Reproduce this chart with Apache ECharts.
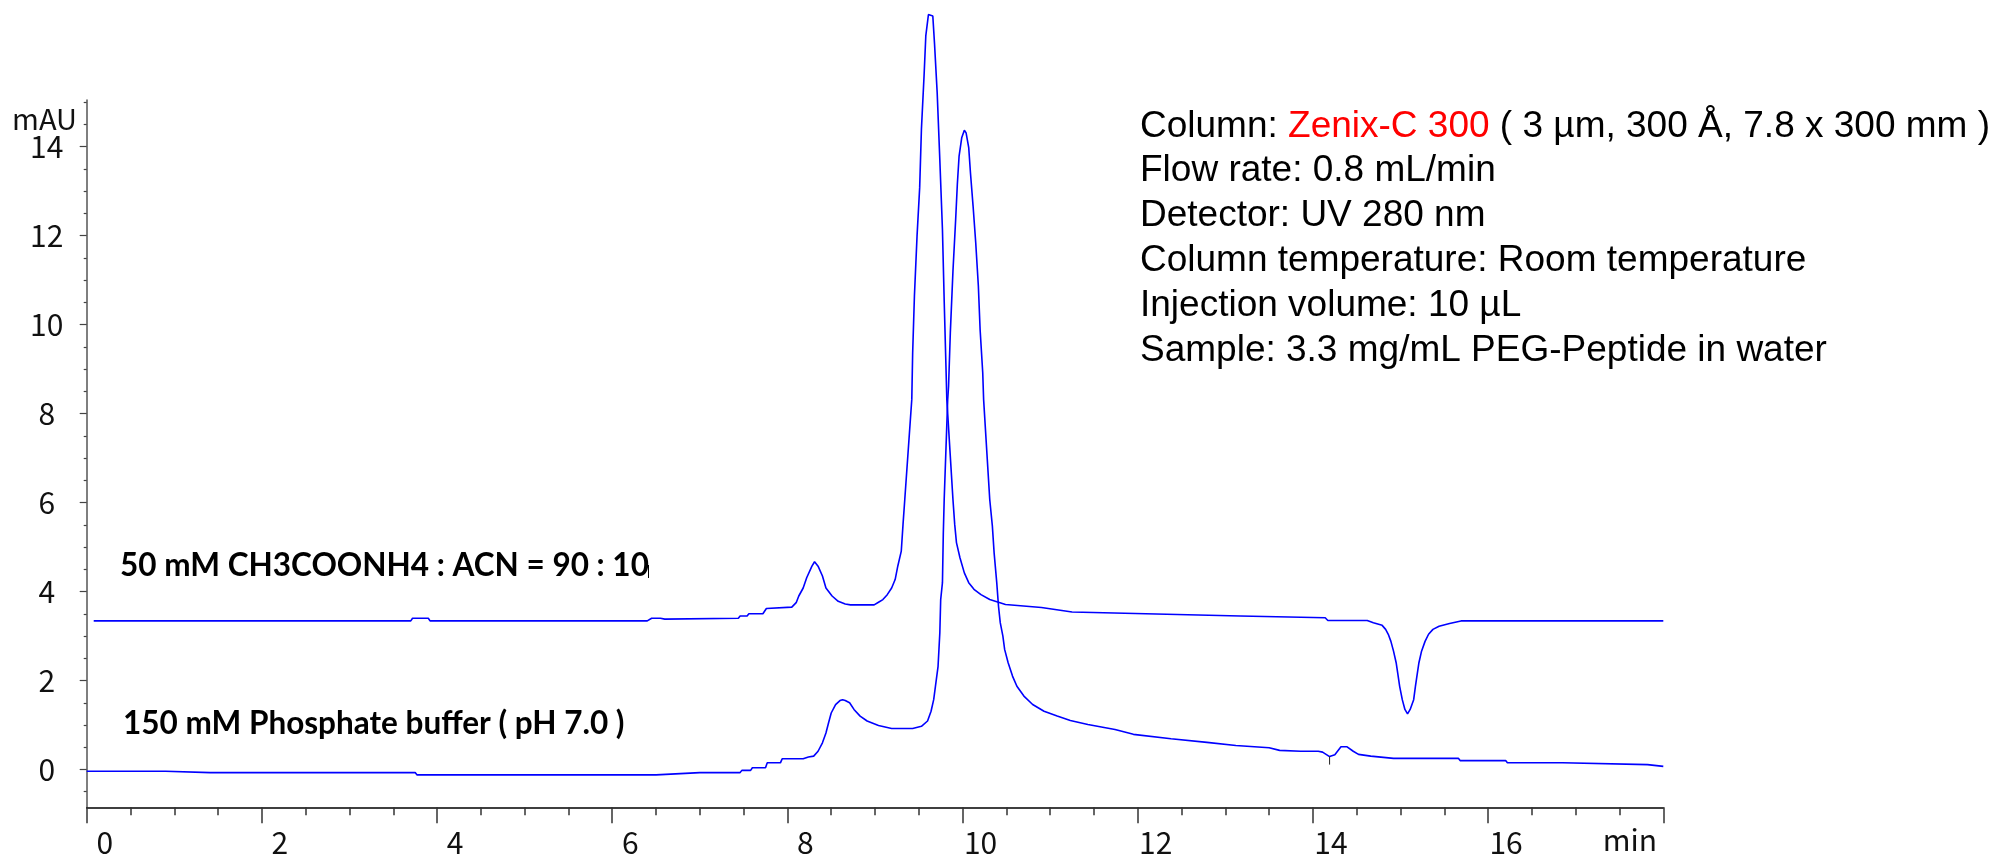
<!DOCTYPE html>
<html>
<head>
<meta charset="utf-8">
<script src="https://cdn.jsdelivr.net/npm/echarts@6/dist/echarts.min.js"></script>
<style>html,body{margin:0;padding:0;background:#fff;}#c{width:2000px;height:858px;}</style>
</head>
<body>
<div id="c"></div>
<script>
// ---- data (time in min, signal in mAU) ----
var xTicks = [0, 2, 4, 6, 8, 10, 12, 14, 16];
var yTicks = [0, 2, 4, 6, 8, 10, 12, 14];
var yMinorTicks = [-0.5, 0.5, 1, 1.5, 2.5, 3, 3.5, 4.5, 5, 5.5, 6.5, 7, 7.5, 8.5, 9, 9.5, 10.5, 11, 11.5, 12.5, 13, 13.5, 14.5, 15];

var acetateTrace = [
  [0.08, 3.34], [3.70, 3.34], [3.72, 3.40], [3.90, 3.40], [3.92, 3.34], [6.40, 3.34], [6.45, 3.40], [6.55, 3.40],
  [6.60, 3.38], [7.44, 3.40], [7.46, 3.45], [7.54, 3.45], [7.56, 3.50], [7.72, 3.50], [7.76, 3.62], [8.05, 3.65],
  [8.10, 3.75], [8.13, 3.90], [8.18, 4.08], [8.22, 4.31], [8.28, 4.57], [8.31, 4.67], [8.33, 4.66], [8.35, 4.57],
  [8.40, 4.35], [8.44, 4.08], [8.51, 3.90], [8.58, 3.78], [8.66, 3.72], [8.72, 3.70], [8.99, 3.70], [9.04, 3.76],
  [9.09, 3.82], [9.14, 3.93], [9.19, 4.08], [9.23, 4.27], [9.26, 4.57], [9.30, 4.91], [9.32, 5.51], [9.34, 6.07],
  [9.42, 8.32], [9.43, 9.37], [9.45, 10.64], [9.48, 11.99], [9.51, 13.08], [9.53, 14.39], [9.56, 15.59],
  [9.58, 16.49], [9.61, 16.97], [9.63, 17.01], [9.66, 16.94], [9.68, 16.30], [9.71, 15.21], [9.74, 13.71],
  [9.77, 12.14], [9.79, 10.53], [9.81, 9.07], [9.82, 8.32], [9.89, 6.07], [9.91, 5.51], [9.93, 5.10],
  [9.97, 4.76], [10.02, 4.42], [10.07, 4.20], [10.13, 4.05], [10.21, 3.93], [10.31, 3.82], [10.49, 3.71],
  [10.90, 3.64], [11.25, 3.54], [12.09, 3.50], [13.17, 3.45], [14.14, 3.41], [14.17, 3.35], [14.62, 3.35],
  [14.69, 3.30], [14.79, 3.24], [14.83, 3.15], [14.86, 3.04], [14.89, 2.88], [14.92, 2.66], [14.95, 2.40],
  [14.97, 2.14], [14.99, 1.87], [15.02, 1.57], [15.05, 1.35], [15.08, 1.25], [15.11, 1.35], [15.15, 1.57],
  [15.17, 1.87], [15.19, 2.14], [15.21, 2.40], [15.24, 2.66], [15.28, 2.88], [15.32, 3.04], [15.37, 3.15],
  [15.44, 3.22], [15.56, 3.28], [15.69, 3.34], [18.0, 3.34]
];

var phosphateTrace = [
  [0, -0.04], [0.90, -0.04], [0.92, -0.07], [1.41, -0.07], [3.75, -0.07], [3.77, -0.12], [4.31, -0.12],
  [6.50, -0.12], [6.52, -0.09], [7.00, -0.07], [7.46, -0.07], [7.48, -0.02], [7.58, -0.02], [7.60, 0.04],
  [7.75, 0.04], [7.77, 0.15], [7.92, 0.15], [7.94, 0.24], [8.18, 0.24], [8.24, 0.28], [8.30, 0.30], [8.35, 0.41],
  [8.40, 0.60], [8.44, 0.82], [8.47, 1.05], [8.50, 1.27], [8.55, 1.46], [8.60, 1.55], [8.63, 1.57], [8.66, 1.55],
  [8.71, 1.50], [8.76, 1.35], [8.83, 1.20], [8.91, 1.09], [9.04, 0.99], [9.19, 0.92], [9.43, 0.92], [9.53, 0.97],
  [9.60, 1.09], [9.64, 1.31], [9.67, 1.57], [9.69, 1.87], [9.72, 2.32], [9.74, 3.07], [9.75, 3.82], [9.77, 4.20],
  [9.78, 5.32], [9.79, 6.07], [9.83, 8.32], [9.84, 8.62], [9.86, 9.82], [9.89, 11.20], [9.92, 12.33],
  [9.94, 13.15], [9.96, 13.79], [9.99, 14.20], [10.02, 14.37], [10.04, 14.31], [10.07, 13.98], [10.09, 13.41],
  [10.12, 12.66], [10.15, 11.84], [10.18, 10.87], [10.20, 9.89], [10.23, 8.92], [10.24, 8.32], [10.31, 6.07],
  [10.34, 5.47], [10.36, 4.87], [10.39, 4.20], [10.41, 3.67], [10.43, 3.30], [10.46, 3.00], [10.48, 2.70],
  [10.52, 2.40], [10.57, 2.10], [10.62, 1.87], [10.70, 1.65], [10.80, 1.46], [10.93, 1.31], [11.08, 1.20],
  [11.23, 1.10], [11.43, 1.01], [11.74, 0.90], [11.95, 0.79], [12.38, 0.69], [12.79, 0.61], [13.12, 0.54],
  [13.50, 0.49], [13.62, 0.43], [13.86, 0.41], [14.06, 0.41], [14.11, 0.39], [14.19, 0.29], [14.25, 0.33],
  [14.32, 0.51], [14.39, 0.51], [14.46, 0.41], [14.52, 0.34], [14.66, 0.30], [14.92, 0.25], [15.66, 0.25],
  [15.68, 0.20], [16.20, 0.20], [16.22, 0.15], [16.85, 0.15], [16.87, 0.11], [17.82, 0.11], [17.84, 0.07],
  [18.0, 0.07]
];

var eventMark = [[14.19, 0.29], [14.19, 0.11]];

var infoLines = [
  'Flow rate: 0.8 mL/min',
  'Detector: UV 280 nm',
  'Column temperature: Room temperature',
  'Injection volume: 10 \u00b5L',
  'Sample: 3.3 mg/mL PEG-Peptide in water'
];
var traceLabels = ['50 mM CH3COONH4 : ACN = 90 : 10', '150 mM Phosphate buffer ( pH 7.0 )'];

// ---- chart ----
var chart = echarts.init(document.getElementById('c'), null, {renderer: 'canvas'});
var axisFont = 'Noto Sans CJK SC';
var infoFont = 'Liberation Sans';

var graphics = [];
graphics.push({
  type: 'text', x: 1140, y: 127,
  style: {
    text: '{k|Column: }{r|Zenix-C 300}{k| ( 3 \u00b5m, 300 \u00c5, 7.8 x 300 mm )}',
    verticalAlign: 'middle', align: 'left',
    rich: {
      k: {fill: '#000', fontSize: 37, fontFamily: infoFont},
      r: {fill: '#ff0000', fontSize: 37, fontFamily: infoFont}
    }
  }
});
var lineY = [171, 216, 261, 306, 351];
infoLines.forEach(function (t, i) {
  graphics.push({type: 'text', x: 1140, y: lineY[i],
    style: {text: t, fontSize: 37, fontFamily: infoFont, fill: '#000', verticalAlign: 'middle', align: 'left'}});
});
graphics.push({type: 'text', x: 120, y: 566,
  style: {text: traceLabels[0], fontSize: 31.5, fontWeight: 'bold', fontFamily: 'Lato', fill: '#000', verticalAlign: 'middle'}});
graphics.push({type: 'text', x: 123, y: 724,
  style: {text: traceLabels[1], fontSize: 31.5, fontWeight: 'bold', fontFamily: 'Lato', fill: '#000', verticalAlign: 'middle'}});
graphics.push({type: 'line', shape: {x1: 648.5, y1: 565, x2: 648.5, y2: 578}, style: {stroke: '#000', lineWidth: 1}});
graphics.push({type: 'text', x: 77, y: 119,
  style: {text: 'mAU', fontSize: 29, fontFamily: axisFont, fill: '#111', verticalAlign: 'middle', align: 'right'}});
graphics.push({type: 'text', x: 1657, y: 840,
  style: {text: 'min', fontSize: 30, fontFamily: axisFont, fill: '#111', verticalAlign: 'middle', align: 'right'}});

var option = {
  animation: false,
  backgroundColor: '#fff',
  grid: {left: 86.7, right: 336.7, top: 100, bottom: 50.7, containLabel: false},
  xAxis: {
    type: 'value', min: 0, max: 18, interval: 2,
    axisLine: {show: true, onZero: false, lineStyle: {color: '#000', width: 1.5}},
    axisTick: {show: true, length: 16, lineStyle: {color: '#333', width: 1.5}},
    minorTick: {show: true, splitNumber: 4, length: 8, lineStyle: {color: '#333', width: 1.5}},
    splitLine: {show: false},
    axisLabel: {
      fontSize: 30, fontFamily: axisFont, color: '#111', margin: 20,
      padding: [0, 0, 0, 36],
      formatter: function (v) { return v === 18 ? '' : String(v); }
    }
  },
  yAxis: [{
    type: 'value', min: -0.85, max: 15.05,
    axisLine: {show: true, onZero: false, lineStyle: {color: '#555', width: 1.5}},
    axisTick: {show: true, length: 7, customValues: yTicks, lineStyle: {color: '#444', width: 1.2}},
    axisLabel: {customValues: yTicks, fontSize: 30, fontFamily: axisFont, color: '#111', align: 'center', margin: 40},
    splitLine: {show: false}
  }, {
    type: 'value', min: -0.85, max: 15.05, position: 'left',
    axisLine: {show: false, onZero: false},
    axisTick: {show: true, length: 3, customValues: yMinorTicks, lineStyle: {color: '#444', width: 1.2}},
    axisLabel: {show: false},
    splitLine: {show: false}
  }],
  series: [{
    name: traceLabels[0], type: 'line', data: acetateTrace, showSymbol: false, clip: false,
    lineStyle: {color: '#0000ff', width: 1.6}, yAxisIndex: 0
  }, {
    name: traceLabels[1], type: 'line', data: phosphateTrace, showSymbol: false, clip: false,
    lineStyle: {color: '#0000ff', width: 1.6}, yAxisIndex: 0
  }, {
    name: 'event', type: 'line', data: eventMark, showSymbol: false, clip: false,
    lineStyle: {color: '#222', width: 1}, yAxisIndex: 0
  }],
  graphic: graphics
};
chart.setOption(option);
</script>
</body>
</html>
